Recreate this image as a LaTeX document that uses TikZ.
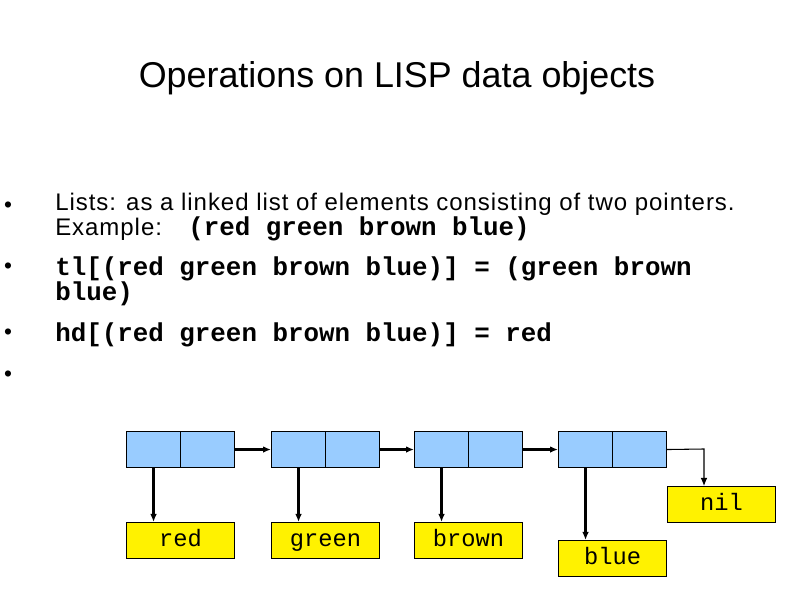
\documentclass[tikz,border=0pt]{standalone}
\usepackage{fontspec}
\setmainfont{Liberation Sans}
\newfontfamily\codefont{Liberation Mono}
\newfontfamily\bodyfont[LetterSpace=4]{Liberation Sans}
\usetikzlibrary{arrows.meta}
\tikzset{
  cellhalf/.style={draw=black, fill=cellblue, minimum width=54*0.75pt, minimum height=36*0.75pt, inner sep=0pt, line width=0.8pt},
  valbox/.style={draw=black, fill=yellow, minimum width=108*0.75pt, minimum height=36*0.75pt, inner sep=0pt, line width=0.8pt, text height=11pt, text depth=2pt, font=\codefont\fontsize{17.8}{20}\selectfont},
  ptr/.style={-{Latex[length=6pt,width=5pt]}, line width=1.6pt},
  thinptr/.style={-{Latex[length=6pt,width=5pt]}, line width=0.8pt},
  bodytext/.style={anchor=base west, inner sep=0pt, font=\bodyfont\fontsize{18}{20}\selectfont},
  codetext/.style={anchor=base west, inner sep=0pt, font=\codefont\bfseries\fontsize{19.4}{22}\selectfont},
  bullet/.style={anchor=center, inner sep=0pt, font=\fontsize{17}{18}\selectfont}
}
\definecolor{cellblue}{HTML}{99CCFF}
\begin{document}
\begin{tikzpicture}[x=0.75pt, y=-0.75pt]
\useasboundingbox[fill=white] (0,0) rectangle (794,595);
% title
\node[anchor=base, inner sep=0pt, font=\fontsize{26.9}{30}\selectfont] (title) at (397,88) {Operations on LISP data objects};
% bullets
\node[bullet] (b1) at (8,207) {•};
\node[bullet] (b2) at (8,268) {•};
\node[bullet] (b3) at (8,334) {•};
\node[bullet] (b4) at (8,376) {•};
% text
\node[bodytext] (l1) at (55,211) {Lists: as a linked list of elements consisting of two pointers.};
\node[bodytext] (l2) at (55,236) {Example:};
\node[codetext] (l2c) at (188,236) {(red green brown blue)};
\node[codetext] (l3) at (55,276) {tl[(red green brown blue)] = (green brown};
\node[codetext] (l3b) at (55,301) {blue)};
\node[codetext] (l4) at (55,342) {hd[(red green brown blue)] = red};
% cons cells
\foreach \i/\x in {1/126,2/271,3/414,4/558}{
  \node[cellhalf, anchor=north west] (c\i a) at (\x,431) {};
  \node[cellhalf, anchor=north west] (c\i b) at (\x+54,431) {};
}
% value boxes
\node[valbox, anchor=north west] (vred) at (126,522) {red};
\node[valbox, anchor=north west] (vgreen) at (271,522) {green};
\node[valbox, anchor=north west] (vbrown) at (414,522) {brown};
\node[valbox, anchor=north west] (vblue) at (558,540) {blue};
\node[valbox, anchor=north west] (vnil) at (667,486) {nil};
% next pointers
\draw[ptr] (c1b.east) -- (c2a.west);
\draw[ptr] (c2b.east) -- (c3a.west);
\draw[ptr] (c3b.east) -- (c4a.west);
\coordinate (corner) at (704,449);
\draw[thinptr] (c4b.east) -- (corner) -- (vnil.north -| corner);
% head pointers
\draw[ptr] (c1a.south) -- (vred.north -| c1a.south);
\draw[ptr] (c2a.south) -- (vgreen.north -| c2a.south);
\draw[ptr] (c3a.south) -- (vbrown.north -| c3a.south);
\draw[ptr] (c4a.south) -- (vblue.north -| c4a.south);
\end{tikzpicture}
\end{document}
